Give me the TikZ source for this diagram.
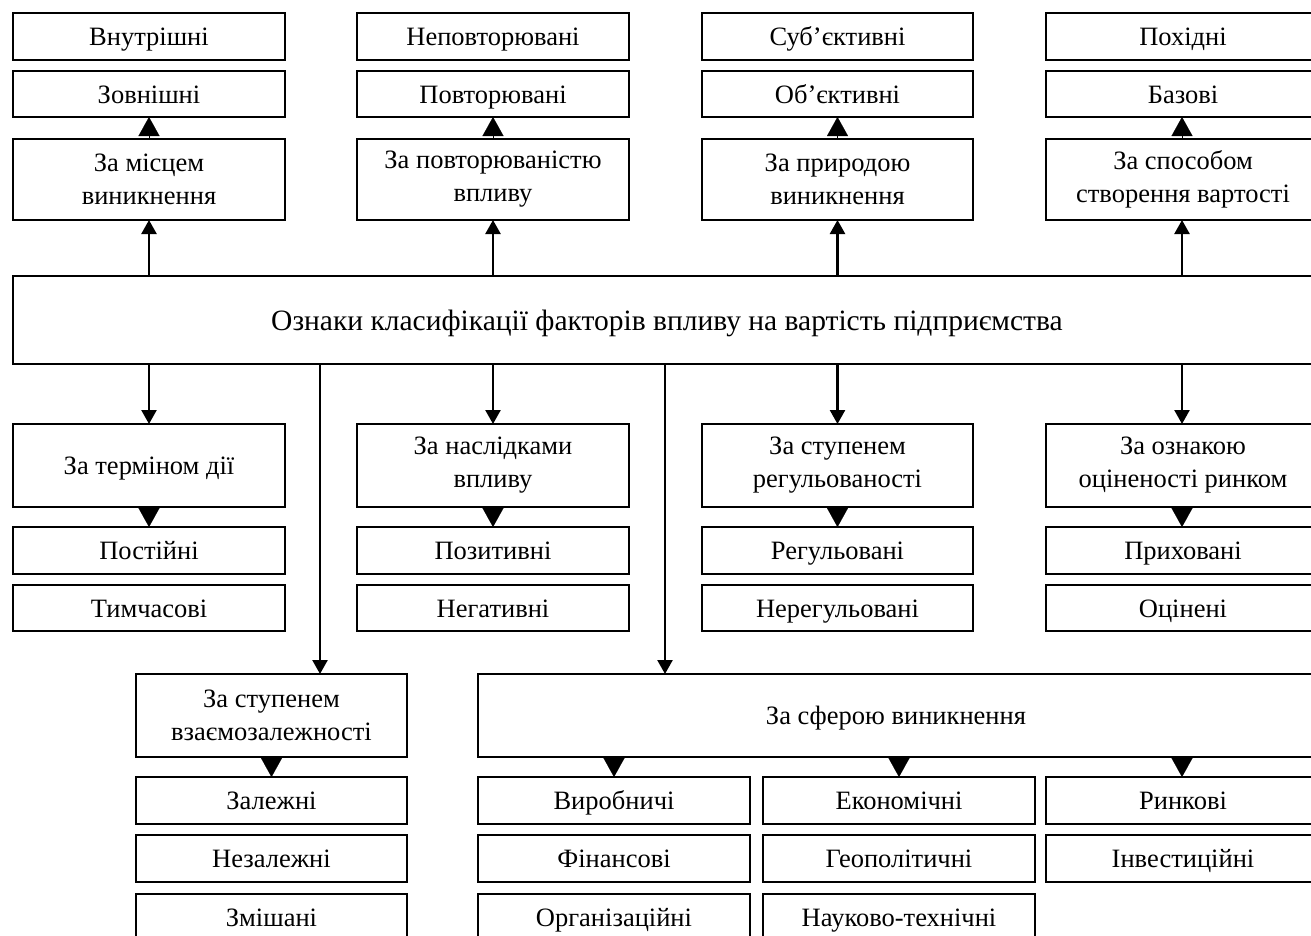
\documentclass[tikz,border=0pt]{standalone}
\usepackage{fontspec}
\setmainfont{Liberation Serif}
\usetikzlibrary{arrows.meta}
\newcommand\bx[7][]{%
  \pgfmathsetmacro\bw{#5-#3}\pgfmathsetmacro\bh{#6-#4}%
  \pgfmathsetmacro\bcx{(#3+#5)/2}\pgfmathsetmacro\bcy{(#4+#6)/2}%
  \node[box,#1,minimum width=\bw pt,minimum height=\bh pt] (#2) at (\bcx,\bcy) {#7};}
\begin{document}
\begin{tikzpicture}[x=1pt,y=-1pt,
  box/.style={draw, line width=2.4pt, align=center, inner sep=0pt, outer sep=0pt,
    font=\fontsize{26.5}{33}\selectfont},
  one/.style={text height=21pt, text depth=2.5pt},
  big/.style={font=\fontsize{29.5}{36}\selectfont, text height=23pt, text depth=3pt},
  arr/.style={line width=2.4pt, -{Triangle[length=14pt,width=15pt]}},
  tri/.style={line width=0.1pt, -{Triangle[length=19pt,width=21pt]}}]
\useasboundingbox (0,0) rectangle (1311,935);
% top row
\bx[one]{ta1}{13}{13}{285}{60}{Внутрішні}
\bx[one]{tb1}{13}{71}{285}{117}{Зовнішні}
\bx{tc1}{13}{139}{285}{220}{За місцем\\виникнення}
\bx[one]{ta2}{357}{13}{629}{60}{Неповторювані}
\bx[one]{tb2}{357}{71}{629}{117}{Повторювані}
\bx{tc2}{357}{139}{629}{220}{За повторюваністю\\впливу}
\bx[one]{ta3}{702}{13}{973}{60}{Суб’єктивні}
\bx[one]{tb3}{702}{71}{973}{117}{Об’єктивні}
\bx{tc3}{702}{139}{973}{220}{За природою\\виникнення}
\bx[one]{ta4}{1046}{13}{1320}{60}{Похідні}
\bx[one]{tb4}{1046}{71}{1320}{117}{Базові}
\bx{tc4}{1046}{139}{1320}{220}{За способом\\створення вартості}
% main
\bx[big]{main}{13}{276}{1321}{364}{Ознаки класифікації факторів впливу на вартість підприємства}
% middle row
\bx[one]{mc1}{13}{424}{285}{507}{За терміном дії}
\bx[one]{ma1}{13}{527}{285}{574}{Постійні}
\bx[one]{mb1}{13}{585}{285}{631}{Тимчасові}
\bx{mc2}{357}{424}{629}{507}{За наслідками\\впливу}
\bx[one]{ma2}{357}{527}{629}{574}{Позитивні}
\bx[one]{mb2}{357}{585}{629}{631}{Негативні}
\bx{mc3}{702}{424}{973}{507}{За ступенем\\регульованості}
\bx[one]{ma3}{702}{527}{973}{574}{Регульовані}
\bx[one]{mb3}{702}{585}{973}{631}{Нерегульовані}
\bx{mc4}{1046}{424}{1320}{507}{За ознакою\\оціненості ринком}
\bx[one]{ma4}{1046}{527}{1320}{574}{Приховані}
\bx[one]{mb4}{1046}{585}{1320}{631}{Оцінені}
% bottom
\bx{vz}{136}{674}{407}{757}{За ступенем\\взаємозалежності}
\bx[one]{z1}{136}{777}{407}{824}{Залежні}
\bx[one]{z2}{136}{835}{407}{882}{Незалежні}
\bx[one]{z3}{136}{894}{407}{941}{Змішані}
\bx[one]{sf}{478}{674}{1314}{757}{За сферою виникнення}
\bx[one]{s11}{478}{777}{750}{824}{Виробничі}
\bx[one]{s12}{478}{835}{750}{882}{Фінансові}
\bx[one]{s13}{478}{894}{750}{941}{Організаційні}
\bx[one]{s21}{763}{777}{1035}{824}{Економічні}
\bx[one]{s22}{763}{835}{1035}{882}{Геополітичні}
\bx[one]{s23}{763}{894}{1035}{941}{Науково-технічні}
\bx[one]{s31}{1046}{777}{1320}{824}{Ринкові}
\bx[one]{s32}{1046}{835}{1320}{882}{Інвестиційні}
\coordinate (vzin) at (320,674);
\coordinate (sfin) at (665,674);
\coordinate (c4) at (1182,0);
% connectors up
\draw[arr] (main.north -| tc1) -- (tc1.south);
\draw[arr] (main.north -| tc2) -- (tc2.south);
\draw[arr] (main.north -| tc3) -- (tc3.south);
\draw[arr] (main.north -| c4) -- (tc4.south -| c4);
\draw[tri] (tc1.north) -- (tb1.south);
\draw[tri] (tc2.north) -- (tb2.south);
\draw[tri] (tc3.north) -- (tb3.south);
\draw[tri] (tc4.north -| c4) -- (tb4.south -| c4);
% connectors down
\draw[arr] (main.south -| mc1) -- (mc1.north);
\draw[arr] (main.south -| mc2) -- (mc2.north);
\draw[arr] (main.south -| mc3) -- (mc3.north);
\draw[arr] (main.south -| c4) -- (mc4.north -| c4);
\draw[tri] (mc1.south) -- (ma1.north);
\draw[tri] (mc2.south) -- (ma2.north);
\draw[tri] (mc3.south) -- (ma3.north);
\draw[tri] (mc4.south -| c4) -- (ma4.north -| c4);
\draw[arr] (main.south -| vzin) -- (vzin);
\draw[arr] (main.south -| sfin) -- (sfin);
\draw[tri] (vz.south) -- (z1.north);
\draw[tri] (sf.south -| s11) -- (s11.north);
\draw[tri] (sf.south -| s21) -- (s21.north);
\draw[tri] (sf.south -| c4) -- (s31.north -| c4);
\end{tikzpicture}
\end{document}
